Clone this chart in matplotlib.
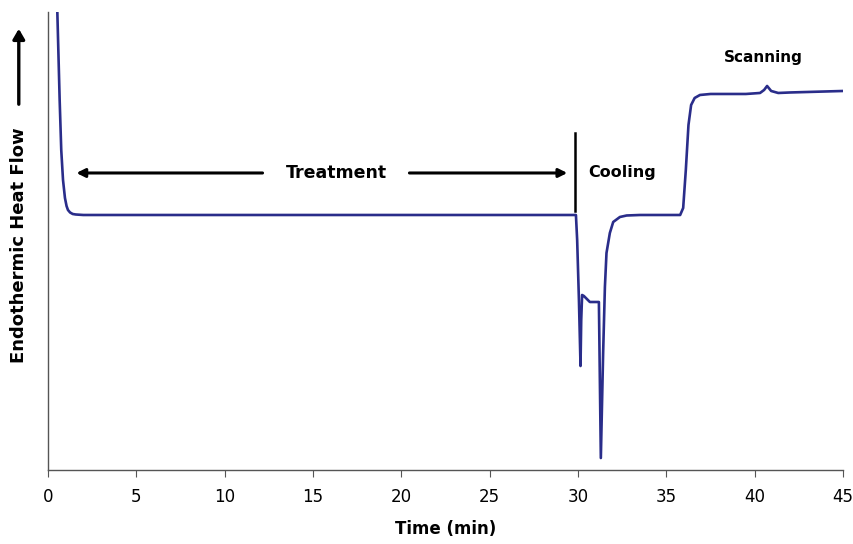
import matplotlib
matplotlib.use('Agg')
import matplotlib.pyplot as plt

# DSC trace (time in min, signal in arbitrary units)
time = [0.53, 0.60, 0.66, 0.75, 0.85, 0.96, 1.05, 1.13, 1.25, 1.40, 1.57, 2.0, 10.0, 20.0, 29.88,
        29.95, 30.05, 30.14, 30.18, 30.23, 30.33, 30.67, 31.18, 31.29,
        31.42, 31.52, 31.61, 31.80, 31.99, 32.37, 32.75, 33.5, 35.78,
        35.95, 36.10, 36.25, 36.40, 36.60, 36.90, 37.5, 38.5, 39.5, 40.3,
        40.53, 40.70, 40.93, 41.33, 42.0, 43.0, 44.0, 45.0]
signal = [457, 410, 370, 320, 290, 272, 264, 260, 257.5, 256, 255.5, 255, 255, 255, 255,
          230, 170, 104, 150, 175, 174, 168, 168, 12,
          117, 183, 217, 237, 248, 253, 254.5, 255, 255,
          262, 300, 345, 365, 372, 375, 376, 376, 376, 377,
          380, 384, 379, 377, 377.5, 378, 378.5, 379]

x_ticks = [0, 5, 10, 15, 20, 25, 30, 35, 40, 45]

fig = plt.figure(figsize=(8.54, 5.44), dpi=100)
ax = fig.add_axes([0.0562, 0.136, 0.931, 0.842])

ax.plot(time, signal, color='#2a2d8a', lw=1.9, solid_joinstyle='round')

ax.set_xlim(0, 45)
ax.set_ylim(0, 458)
ax.set_xticks(x_ticks)
ax.set_yticks([])
for s in ('top', 'right'):
    ax.spines[s].set_visible(False)
for s in ('left', 'bottom'):
    ax.spines[s].set_color('#555555')
    ax.spines[s].set_linewidth(1.0)
ax.tick_params(axis='x', direction='out', length=5, color='#555555',
               labelsize=12, pad=8)

ax.set_xlabel('Time (min)', fontsize=12, fontweight='bold', labelpad=10)

# y label with an upward arrow above it
fig.text(0.022, 1 - 245 / 544, 'Endothermic Heat Flow', rotation=90, ha='center',
         va='center', fontsize=13, fontweight='bold')
fig.add_artist(matplotlib.patches.FancyArrowPatch(
    (0.022, 1 - 107 / 544), (0.022, 1 - 26 / 544), transform=fig.transFigure,
    arrowstyle='-|>,head_length=6,head_width=3.5', color='black', lw=2.4))

# annotations
arrow_kw = dict(arrowstyle='-|>,head_length=0.5,head_width=0.25', color='black', lw=2.2)
ax.annotate('', xy=(1.45, 297), xytext=(12.3, 297), arrowprops=arrow_kw)
ax.annotate('', xy=(29.55, 297), xytext=(20.3, 297), arrowprops=arrow_kw)
ax.text(16.3, 297, 'Treatment', ha='center', va='center', fontsize=12.5, fontweight='bold')
ax.plot([29.82, 29.82], [259, 337], color='black', lw=1.8)
ax.text(30.55, 297, 'Cooling', ha='left', va='center', fontsize=11.5, fontweight='bold')
ax.text(40.5, 412, 'Scanning', ha='center', va='center', fontsize=11, fontweight='bold')

fig.savefig('out.png', dpi=100, facecolor='white')
